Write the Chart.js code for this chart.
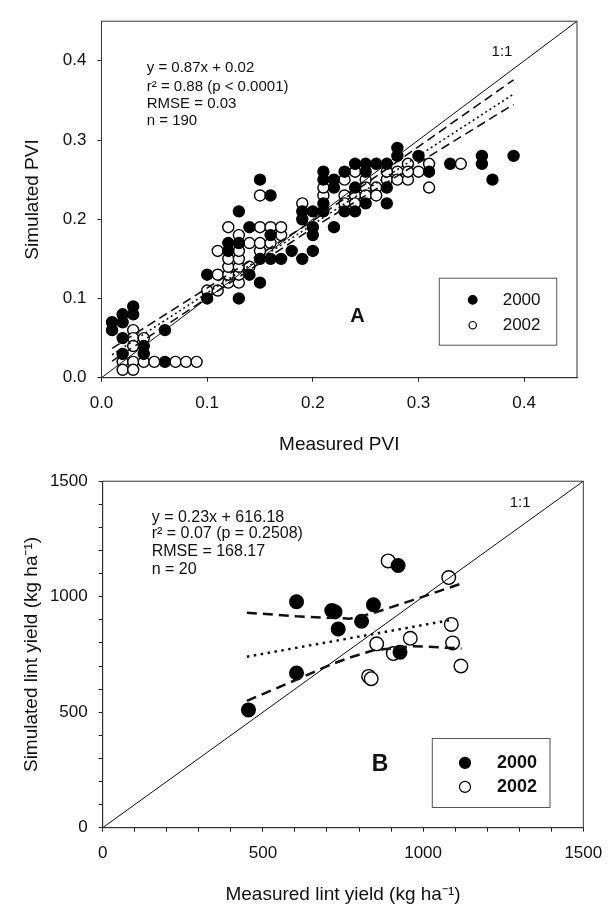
<!DOCTYPE html>
<html>
<head>
<meta charset="utf-8">
<script src="https://cdn.jsdelivr.net/npm/chart.js@4.4.0/dist/chart.umd.min.js"></script>
<style>
  body { margin: 0; background: #fff; width: 616px; height: 906px; overflow: hidden; }
  #pviChart { position: absolute; left: 0; top: 0; }
  #yieldChart { position: absolute; left: 0; top: 460px; }
</style>
</head>
<body>
<canvas id="pviChart" width="616" height="460"></canvas>
<canvas id="yieldChart" width="616" height="446"></canvas>
<script>
// ---- Panel A: PVI, measured vs simulated (0.01 grid) ----
const pviMeas2000 = [0.01, 0.01, 0.02, 0.02, 0.03, 0.03, 0.02, 0.02, 0.04, 0.04, 0.06, 0.06,
  0.10, 0.10, 0.13, 0.13, 0.14, 0.14, 0.15, 0.15, 0.16, 0.17, 0.12, 0.12, 0.13, 0.16, 0.16, 0.15, 0.18, 0.19, 0.20, 0.20,
  0.19, 0.19, 0.20, 0.20, 0.21, 0.21, 0.22, 0.21, 0.21, 0.22, 0.22, 0.23, 0.23, 0.24, 0.24, 0.24, 0.25, 0.25, 0.25,
  0.26, 0.27, 0.27, 0.27, 0.28, 0.28, 0.30, 0.31, 0.33, 0.36, 0.36, 0.37, 0.39];
const pviSim2000 = [0.07, 0.06, 0.08, 0.07, 0.09, 0.08, 0.05, 0.03, 0.04, 0.03, 0.06, 0.02,
  0.13, 0.10, 0.10, 0.21, 0.19, 0.13, 0.12, 0.15, 0.15, 0.15, 0.17, 0.16, 0.17, 0.18, 0.23, 0.25, 0.16, 0.15, 0.16, 0.18,
  0.20, 0.21, 0.21, 0.19, 0.22, 0.21, 0.19, 0.26, 0.25, 0.25, 0.24, 0.26, 0.21, 0.27, 0.24, 0.21, 0.27, 0.26, 0.22,
  0.27, 0.27, 0.24, 0.22, 0.29, 0.28, 0.28, 0.26, 0.27, 0.28, 0.27, 0.25, 0.28];
const pviMeas2002 = [0.03, 0.03, 0.03, 0.04, 0.02, 0.03, 0.04, 0.05, 0.07, 0.08, 0.09, 0.02, 0.03,
  0.10, 0.11, 0.11, 0.11, 0.12, 0.12, 0.12, 0.12, 0.12, 0.13, 0.13, 0.13, 0.13, 0.13, 0.13, 0.14, 0.14,
  0.15, 0.15, 0.15, 0.15, 0.16, 0.16, 0.17, 0.17,
  0.19, 0.21, 0.21, 0.23, 0.23, 0.23, 0.24, 0.24, 0.24, 0.25, 0.25, 0.25, 0.26, 0.26, 0.27, 0.28, 0.28,
  0.29, 0.29, 0.30, 0.31, 0.31, 0.34, 0.29, 0.27];
const pviSim2002 = [0.06, 0.05, 0.04, 0.05, 0.02, 0.02, 0.02, 0.02, 0.02, 0.02, 0.02, 0.01, 0.01,
  0.11, 0.11, 0.13, 0.16, 0.12, 0.13, 0.14, 0.15, 0.19, 0.12, 0.13, 0.14, 0.15, 0.16, 0.18, 0.14, 0.17,
  0.16, 0.17, 0.19, 0.23, 0.17, 0.19, 0.18, 0.19,
  0.22, 0.23, 0.24, 0.25, 0.23, 0.22, 0.26, 0.23, 0.22, 0.25, 0.24, 0.23, 0.24, 0.23, 0.25, 0.26, 0.25,
  0.27, 0.25, 0.26, 0.27, 0.24, 0.27, 0.26, 0.26];
const pviOneX = [0, 0.45];
const pviOneY = [0, 0.45];
const pviFitX = [0.01, 0.39];
const pviFitY = [0.029, 0.358];
const pviUpperX = [0.01, 0.20, 0.39];
const pviUpperY = [0.037, 0.198, 0.376];
const pviLowerX = [0.01, 0.20, 0.39];
const pviLowerY = [0.021, 0.189, 0.345];

// ---- Panel B: lint yield (kg/ha) ----
const yieldMeas2000 = [455, 605, 605, 715, 725, 735, 808, 845, 922, 928];
const yieldSim2000 = [510, 670, 978, 940, 935, 860, 894, 965, 1135, 760];
const yieldMeas2002 = [891, 1080, 1088, 960, 855, 1092, 907, 830, 838, 1118];
const yieldSim2002 = [1155, 1083, 880, 820, 796, 800, 754, 655, 645, 700];
const yieldOneX = [0, 1500];
const yieldOneY = [0, 1500];
const yieldFitX = [450, 1090];
const yieldFitY = [740, 900];
const yieldUpperX = [450, 605, 772, 845, 970, 1115];
const yieldUpperY = [931, 915, 905, 929, 986, 1055];
const yieldLowerX = [450, 605, 710, 772, 845, 970, 1120];
const yieldLowerY = [549, 641, 705, 737, 768, 786, 776];

const seriesNames = ['2000', '2002'];

Chart.defaults.font.family = "'Liberation Sans', Arial, sans-serif";
Chart.defaults.color = '#111';

const toPoints = (xs, ys) => xs.map((v, i) => ({ x: v, y: ys[i] }));

// frame, text notes and the boxed legend, drawn on top of the datasets
const panelExtras = {
    id: 'panelExtras',
    afterDatasetsDraw(chart, args, opts) {
        const { ctx, chartArea: area, scales: { x, y } } = chart;
        ctx.save();
        ctx.strokeStyle = '#333';
        ctx.lineWidth = 1;
        ctx.strokeRect(area.left, area.top, area.right - area.left, area.bottom - area.top);

        ctx.fillStyle = '#111';
        ctx.textBaseline = 'middle';
        opts.notes.forEach(n => {
            ctx.font = n.font;
            ctx.textAlign = n.align;
            ctx.fillText(n.text, x.getPixelForValue(n.x), y.getPixelForValue(n.y));
        });

        const lg = opts.legend;
        const bx = area.left + lg.left, by = area.top + lg.top;
        ctx.fillStyle = '#fff';
        ctx.fillRect(bx, by, lg.width, lg.height);
        ctx.strokeStyle = '#555';
        ctx.strokeRect(bx, by, lg.width, lg.height);
        const marks = chart.data.datasets.filter(d => d.inLegend);
        marks.forEach((d, i) => {
            const my = area.top + lg.rows[i];
            ctx.beginPath();
            ctx.arc(area.left + lg.markX, my, lg.radius[i], 0, Math.PI * 2);
            ctx.fillStyle = d.pointBackgroundColor;
            ctx.fill();
            ctx.lineWidth = 1.2;
            ctx.strokeStyle = '#000';
            ctx.stroke();
            ctx.fillStyle = '#111';
            ctx.font = lg.font;
            ctx.textAlign = 'left';
            ctx.fillText(d.label, area.left + lg.textX, my);
        });
        ctx.restore();
    }
};

function lineSet(xs, ys, dash, width) {
    return {
        data: toPoints(xs, ys),
        showLine: true,
        borderColor: '#111',
        borderWidth: width,
        borderDash: dash,
        pointRadius: 0,
        fill: false
    };
}

function dotSet(label, xs, ys, filled, radius) {
    return {
        label: label,
        inLegend: true,
        data: toPoints(xs, ys),
        pointRadius: radius,
        pointBackgroundColor: filled ? '#000' : '#fff',
        pointBorderColor: '#000',
        pointBorderWidth: 1.4,
        showLine: false
    };
}

function makeAxis(opts) {
    return {
        type: 'linear',
        min: opts.min,
        max: opts.max,
        afterFit: opts.fit,
        grid: { display: true, drawOnChartArea: false, drawTicks: true, tickLength: 4, color: '#222', tickColor: '#222' },
        border: { display: true, color: '#222', width: 1 },
        ticks: {
            stepSize: opts.step,
            includeBounds: false,
            autoSkip: false,
            maxRotation: 0,
            padding: 11,
            color: '#111',
            font: { size: 17 },
            callback: opts.label
        },
        title: { display: true, text: opts.title, color: '#111', font: { size: 19 }, padding: opts.titlePad }
    };
}

// Panel A
new Chart(document.getElementById('pviChart').getContext('2d'), {
    type: 'scatter',
    data: {
        datasets: [
            lineSet(pviOneX, pviOneY, [], 1),
            lineSet(pviUpperX, pviUpperY, [9, 5], 1.6),
            lineSet(pviFitX, pviFitY, [2, 3], 1.6),
            lineSet(pviLowerX, pviLowerY, [9, 5], 1.6),
            dotSet(seriesNames[0], pviMeas2000, pviSim2000, true, 5.5),
            dotSet(seriesNames[1], pviMeas2002, pviSim2002, false, 5.5)
        ]
    },
    options: {
        responsive: false,
        animation: false,
        devicePixelRatio: 1,
        layout: { padding: { top: 12, right: 39, bottom: 0, left: 0 } },
        scales: {
            x: makeAxis({ min: 0, max: 0.45, step: 0.1, fit: s => { s.height = 82.3; },
                label: v => v.toFixed(1), title: 'Measured PVI', titlePad: { top: 0, bottom: 3.6 } }),
            y: makeAxis({ min: 0, max: 0.45, step: 0.1, fit: s => { s.width = 101.5; },
                label: v => v.toFixed(1), title: 'Simulated PVI', titlePad: { top: 21.6, bottom: 0 } })
        },
        plugins: {
            legend: { display: false },
            tooltip: { enabled: false },
            panelExtras: {
                notes: [
                    { text: 'y = 0.87x + 0.02', x: 0.0428, y: 0.3916, font: '15px "Liberation Sans", Arial', align: 'left' },
                    { text: 'r² = 0.88 (p < 0.0001)', x: 0.0428, y: 0.367, font: '15px "Liberation Sans", Arial', align: 'left' },
                    { text: 'RMSE = 0.03', x: 0.0428, y: 0.3456, font: '15px "Liberation Sans", Arial', align: 'left' },
                    { text: 'n = 190', x: 0.0428, y: 0.324, font: '15px "Liberation Sans", Arial', align: 'left' },
                    { text: '1:1', x: 0.379, y: 0.4113, font: '15px "Liberation Sans", Arial', align: 'center' },
                    { text: 'A', x: 0.2423, y: 0.0771, font: 'bold 20px "Liberation Sans", Arial', align: 'center' }
                ],
                legend: { left: 337.8, top: 257, width: 117.4, height: 67, markX: 371.2, textX: 401.2,
                    rows: [278.7, 304], radius: [4.3, 3.7], font: '17px "Liberation Sans", Arial' }
            }
        }
    },
    plugins: [panelExtras]
});

// Panel B
new Chart(document.getElementById('yieldChart').getContext('2d'), {
    type: 'scatter',
    data: {
        datasets: [
            lineSet(yieldOneX, yieldOneY, [], 1),
            lineSet(yieldUpperX, yieldUpperY, [10, 6], 2.5),
            lineSet(yieldFitX, yieldFitY, [2.5, 4.5], 2.5),
            lineSet(yieldLowerX, yieldLowerY, [10, 6], 2.5),
            dotSet(seriesNames[0], yieldMeas2000, yieldSim2000, true, 6.8),
            dotSet(seriesNames[1], yieldMeas2002, yieldSim2002, false, 6.8)
        ]
    },
    options: {
        responsive: false,
        animation: false,
        devicePixelRatio: 1,
        layout: { padding: { top: 11, right: 32.7, bottom: 0, left: 0 } },
        scales: {
            x: makeAxis({ min: 0, max: 1500, step: 100, fit: s => { s.height = 78.3; },
                label: v => (v % 500 === 0 ? v : ''), title: 'Measured lint yield (kg ha⁻¹)', titlePad: { top: 0, bottom: 0 } }),
            y: makeAxis({ min: 0, max: 1500, step: 100, fit: s => { s.width = 102.7; },
                label: v => (v % 500 === 0 ? v : ''), title: 'Simulated lint yield (kg ha⁻¹)', titlePad: { top: 20, bottom: 0 } })
        },
        plugins: {
            legend: { display: false },
            tooltip: { enabled: false },
            panelExtras: {
                notes: [
                    { text: 'y = 0.23x + 616.18', x: 153, y: 1343, font: '16px "Liberation Sans", Arial', align: 'left' },
                    { text: 'r² = 0.07 (p = 0.2508)', x: 153, y: 1273, font: '16px "Liberation Sans", Arial', align: 'left' },
                    { text: 'RMSE = 168.17', x: 153, y: 1195, font: '16px "Liberation Sans", Arial', align: 'left' },
                    { text: 'n = 20', x: 153, y: 1119, font: '16px "Liberation Sans", Arial', align: 'left' },
                    { text: '1:1', x: 1303, y: 1406, font: '15px "Liberation Sans", Arial', align: 'center' },
                    { text: 'B', x: 866, y: 271, font: 'bold 23px "Liberation Sans", Arial', align: 'center' }
                ],
                legend: { left: 329.6, top: 257.3, width: 117.7, height: 69, markX: 362.3, textX: 394.3,
                    rows: [281.7, 305.7], radius: [5.5, 5.5], font: 'bold 18px "Liberation Sans", Arial' }
            }
        }
    },
    plugins: [panelExtras]
});
</script>
</body>
</html>
